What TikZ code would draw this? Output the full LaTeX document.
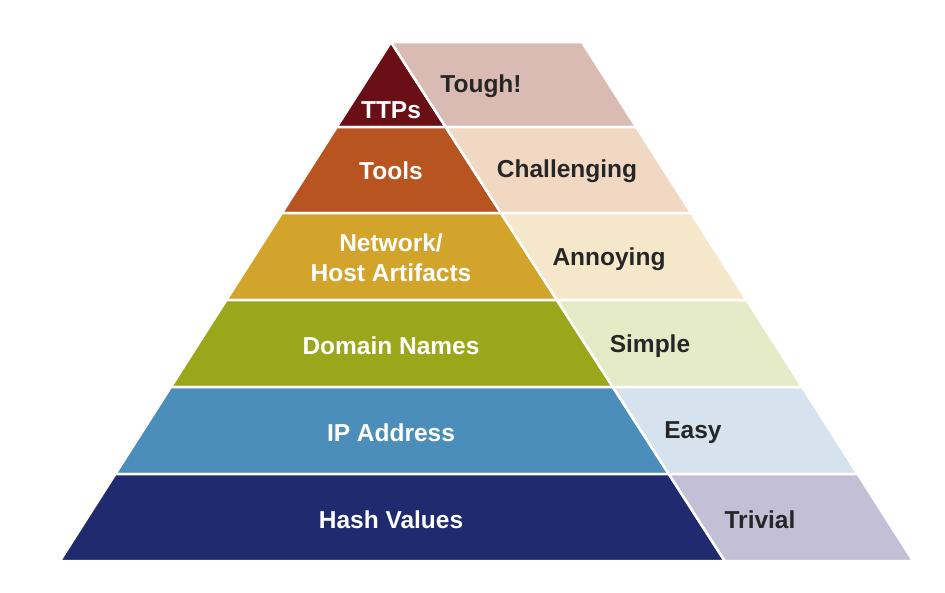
\documentclass[tikz,border=0pt]{standalone}
\usepackage{fontspec}
\setmainfont{Liberation Sans}

\definecolor{ttpdark}{HTML}{6B0F16}
\definecolor{ttplight}{HTML}{D9BBB3}
\definecolor{tooldark}{HTML}{B8541F}
\definecolor{toollight}{HTML}{F0D8C2}
\definecolor{artdark}{HTML}{D3A42C}
\definecolor{artlight}{HTML}{F5E8CA}
\definecolor{domdark}{HTML}{9BA71A}
\definecolor{domlight}{HTML}{E5EAC7}
\definecolor{ipdark}{HTML}{4A8EB9}
\definecolor{iplight}{HTML}{D6E2EE}
\definecolor{hashdark}{HTML}{1F2B6E}
\definecolor{hashlight}{HTML}{C2BFD7}

\begin{document}
\begin{tikzpicture}[x=1pt, y=-1pt,
                    band/.style={draw=white, line width=2.5pt, line join=miter},
                    dark label/.style={text=white, font=\bfseries\fontsize{24.5}{30}\selectfont, align=center},
                    light label/.style={text=black!85, font=\bfseries\fontsize{24.5}{30}\selectfont}]

  \useasboundingbox (0,0) rectangle (945,592);

  % bands: top, bottom, dark colour, light colour
  \foreach \ya/\yb/\dk/\lt in {42/127/ttpdark/ttplight, 127/213/tooldark/toollight,
                               213/300/artdark/artlight, 300/387/domdark/domlight,
                               387/474/ipdark/iplight, 474/561/hashdark/hashlight}{
    \fill[\dk, band] ({391-0.638*(\ya-42)},\ya) -- ({391+0.643*(\ya-42)},\ya)
          -- ({391+0.643*(\yb-42)},\yb) -- ({391-0.638*(\yb-42)},\yb) -- cycle;
    \fill[\lt, band] ({391+0.643*(\ya-42)},\ya) -- ({582+0.638*(\ya-42)},\ya)
          -- ({582+0.638*(\yb-42)},\yb) -- ({391+0.643*(\yb-42)},\yb) -- cycle;
  }

  \node[dark label] (ttp) at (391,110) {TTPs};
  \node[dark label] (tools) at (391,171) {Tools};
  \node[dark label] (artifacts) at (391,258) {Network/\\Host Artifacts};
  \node[dark label] (domain) at (391,346) {Domain Names};
  \node[dark label] (ip) at (391,433) {IP Address};
  \node[dark label] (hash) at (391,520) {Hash Values};

  \node[light label] (tough) at (481,86) {Tough!};
  \node[light label] (challenging) at (567,171) {Challenging};
  \node[light label] (annoying) at (609,259) {Annoying};
  \node[light label] (simple) at (650,346) {Simple};
  \node[light label] (easy) at (693,433) {Easy};
  \node[light label] (trivial) at (760,520) {Trivial};

\end{tikzpicture}
\end{document}
